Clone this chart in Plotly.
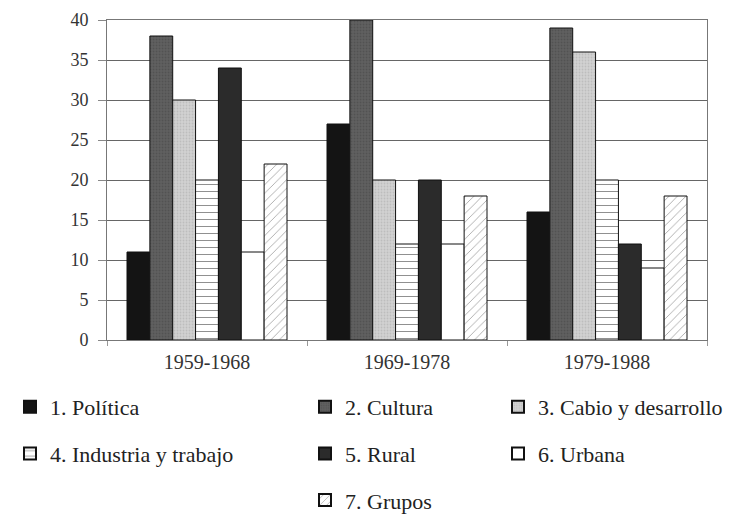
import plotly.graph_objects as go

periods = ["1959-1968", "1969-1978", "1979-1988"]
series_names = ["1. Política", "2. Cultura", "3. Cabio y desarrollo",
                "4. Industria y trabajo", "5. Rural", "6. Urbana", "7. Grupos"]
politica = [11, 27, 16]
cultura = [38, 40, 39]
cabio = [30, 20, 36]
industria = [20, 12, 20]
rural = [34, 20, 12]
urbana = [11, 12, 9]
grupos = [22, 18, 18]
y_ticks = [0, 5, 10, 15, 20, 25, 30, 35, 40]

values = [politica, cultura, cabio, industria, rural, urbana, grupos]
styles = [
    dict(color="#141414", pattern=dict(shape="")),
    dict(color="#5a5a5a", pattern=dict(shape=".", fgcolor="#444444", bgcolor="#606060", size=3, solidity=0.3)),
    dict(color="#c8c8c8", pattern=dict(shape=".", fgcolor="#a8a8a8", bgcolor="#d2d2d2", size=3, solidity=0.3)),
    dict(color="white", pattern=dict(shape="-", fgcolor="#222222", bgcolor="white", size=7, solidity=0.15)),
    dict(color="#2b2b2b", pattern=dict(shape="")),
    dict(color="white", pattern=dict(shape="")),
    dict(color="white", pattern=dict(shape="/", fgcolor="#555555", bgcolor="white", size=6, solidity=0.15)),
]
legend_of = ["legend", "legend2", "legend3", "legend", "legend2", "legend3", "legend2"]

fig = go.Figure()
for name, vals, st, lg in zip(series_names, values, styles, legend_of):
    fig.add_trace(go.Bar(
        x=periods, y=vals, name=name, legend=lg, legendgroup=name,
        marker=dict(color=st["color"], pattern=st["pattern"],
                    line=dict(color="#111111", width=1)),
    ))

font = "Liberation Serif, DejaVu Serif, serif"
leg_common = dict(orientation="v", xref="container", yref="container",
                  yanchor="top", xanchor="left", bgcolor="rgba(0,0,0,0)",
                  font=dict(family=font, size=22, color="#222222"),
                  tracegroupgap=15, itemsizing="constant", traceorder="grouped")

leg_top = 1 - 378 / 521

fig.update_layout(
    width=748, height=521,
    margin=dict(l=99, r=49, t=12, b=189, autoexpand=False),
    paper_bgcolor="white", plot_bgcolor="white",
    barmode="group", bargap=0.2, bargroupgap=0,
    font=dict(family=font, size=16, color="#333333"),
    xaxis=dict(type="category", showline=True, linecolor="#777777", linewidth=1,
               ticks="outside", tickson="boundaries", ticklen=5, tickcolor="#999999",
               mirror=True, tickangle=0, ticklabelstandoff=4,
               tickfont=dict(size=20, family=font, color="#333333")),
    yaxis=dict(range=[0, 40], tickvals=y_ticks, showgrid=True, gridcolor="#666666",
               gridwidth=1, showline=True, linecolor="#777777", mirror=True,
               ticks="outside", ticklen=8, tickcolor="#888888", zeroline=False,
               ticklabelstandoff=6,
               tickfont=dict(size=18, family=font, color="#333333")),
    legend=dict(x=2 / 748, y=leg_top, **leg_common),
    legend2=dict(x=297 / 748, y=leg_top, **leg_common),
    legend3=dict(x=490 / 748, y=leg_top, **leg_common),
)

fig.write_html("out.html")
